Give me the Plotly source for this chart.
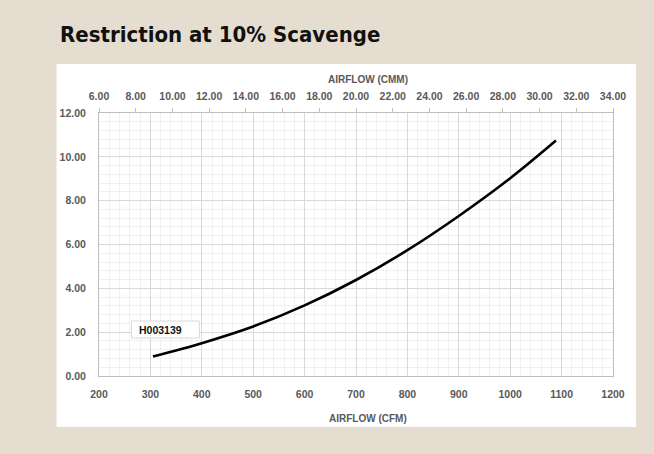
import plotly.graph_objects as go

# ---- data ----
airflow_cfm = [305, 400, 500, 600, 700, 800, 900, 1000, 1089]
restriction = [0.89, 1.50, 2.26, 3.22, 4.38, 5.74, 7.30, 9.02, 10.74]
series_name = "H003139"
CFM_TO_CMM = 0.0283168
cmm_ticks = [6 + 2 * i for i in range(15)]

title_text = "Restriction at 10% Scavenge"
x_title = "AIRFLOW (CFM)"
x2_title = "AIRFLOW (CMM)"

# ---- layout geometry (pixels) ----
W, H = 654, 454
L, R, T, B = 98.5, 613, 113, 376

def px(x):
    return (x - L) / (R - L)

def py(y):
    return (B - y) / (B - T)

BG = "#e4ddd0"
TICKC = "#595959"
AXC = "#bfbfbf"
MAJ = "#d9d9d9"
MIN = "#f0f0f0"
TFONT = dict(family="Liberation Sans, Arial, sans-serif", size=10.5, color=TICKC, weight="bold")

fig = go.Figure()
fig.add_trace(go.Scatter(
    x=airflow_cfm, y=restriction, mode="lines", name=series_name,
    line=dict(color="black", width=2.6, shape="spline", smoothing=1.0),
    showlegend=False, hoverinfo="x+y",
))
fig.add_trace(go.Scatter(
    x=[v * CFM_TO_CMM for v in airflow_cfm], y=restriction, xaxis="x2",
    mode="lines", line=dict(color="rgba(0,0,0,0)", width=0),
    showlegend=False, hoverinfo="skip",
))

fig.update_layout(
    width=W, height=H,
    margin=dict(l=L, r=W - R, t=T, b=H - B, pad=0),
    paper_bgcolor=BG, plot_bgcolor="white",
    xaxis=dict(
        range=[200, 1200], dtick=100, tick0=200, tickformat="d",
        showgrid=True, gridcolor=MAJ, gridwidth=1,
        minor=dict(dtick=20, showgrid=True, gridcolor=MIN, gridwidth=1),
        showline=True, linecolor=AXC, linewidth=1,
        ticks="", tickfont=TFONT, ticklabelstandoff=8,
        zeroline=False, fixedrange=True,
    ),
    xaxis2=dict(
        overlaying="x", side="top", range=[6, 34],
        tickvals=cmm_ticks, tickformat=".2f",
        showgrid=False, showline=True, linecolor=AXC, linewidth=1,
        ticks="outside", ticklen=4, tickcolor=AXC, tickfont=TFONT,
        ticklabelstandoff=4, zeroline=False, fixedrange=True,
    ),
    yaxis=dict(
        range=[0, 12], dtick=2, tick0=0, tickformat=".2f",
        showgrid=True, gridcolor=MAJ, gridwidth=1,
        minor=dict(dtick=0.4, showgrid=True, gridcolor=MIN, gridwidth=1),
        showline=True, linecolor=AXC, linewidth=1, mirror=True,
        ticks="", tickfont=TFONT, ticklabelstandoff=10,
        zeroline=False, fixedrange=True,
    ),
    shapes=[
        dict(type="rect", xref="paper", yref="paper", layer="below",
             x0=px(56), x1=px(636), y0=py(427), y1=py(64),
             fillcolor="white", line=dict(width=0)),
        dict(type="rect", xref="paper", yref="paper", layer="above",
             x0=px(131), x1=px(199), y0=py(338), y1=py(321),
             fillcolor="white", line=dict(color=MAJ, width=1)),
    ],
    annotations=[
        dict(text=f"<b>{title_text}</b>", xref="paper", yref="paper",
             x=px(57), y=py(35), xanchor="left", yanchor="middle", showarrow=False,
             font=dict(family="DejaVu Sans Condensed, Liberation Sans Narrow, sans-serif",
                       size=22, color="#111111")),
        dict(text=f"<b>{x2_title}</b>", xref="paper", yref="paper",
             x=px(368), y=py(79), xanchor="center", yanchor="middle", showarrow=False,
             font=dict(family="Liberation Sans, Arial, sans-serif", size=10, color=TICKC)),
        dict(text=f"<b>{x_title}</b>", xref="paper", yref="paper",
             x=px(368), y=py(418), xanchor="center", yanchor="middle", showarrow=False,
             font=dict(family="Liberation Sans, Arial, sans-serif", size=10, color=TICKC)),
        dict(text=f"<b>{series_name}</b>", xref="paper", yref="paper",
             x=px(137), y=py(329.5), xanchor="left", yanchor="middle", showarrow=False,
             font=dict(family="Liberation Sans, Arial, sans-serif", size=10.5, color="#111111")),
    ],
)

fig.write_html(
    "out.html",
    config={"displayModeBar": False},
    post_script="document.body.style.margin='0';document.body.style.padding='0';"
                "document.body.style.background='" + BG + "';",
)
